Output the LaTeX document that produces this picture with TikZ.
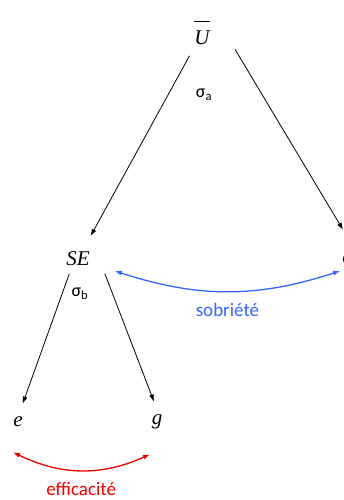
\documentclass[tikz,border=0pt]{standalone}
\usepackage{fontspec}
\setmainfont{Liberation Serif}
\newfontfamily\labelfont{Carlito}
\usetikzlibrary{arrows.meta}
\definecolor{sobblue}{RGB}{51, 102, 255}
\definecolor{effred}{RGB}{240, 0, 0}

\begin{document}
\begin{tikzpicture}[x=1pt,y=1pt,
    var/.style={font=\fontsize{21}{24}\selectfont\itshape, inner sep=0pt},
    lbl/.style={font=\labelfont\fontsize{19}{21}\selectfont},
    sig/.style={font=\labelfont\fontsize{18}{20}\selectfont},
    arr/.style={-{Latex[length=7pt,width=5pt]}, line width=0.8pt, black},
    twoway/.style={{Latex[length=7pt,width=5pt]}-{Latex[length=7pt,width=5pt]}, line width=1.3pt}]
    \useasboundingbox (0,0) rectangle (344,500);

    % variables
    \node[var] (U) at (202,467) {$\overline{\mbox{\itshape U\rule{0pt}{22pt}}}$};
    \node[var] (SE) at (78,241) {SE};
    \node[var] (C) at (347,241) {c};
    \node[var] (E) at (18,78) {e};
    \node[var] (G) at (157,78) {g};

    % sigmas
    \node[sig] (sa) at (204,405) {σ\textsubscript{a}};
    \node[sig] (sb) at (80,206) {σ\textsubscript{b}};

    % tree
    \draw[arr, shorten <=12pt, shorten >=18pt] (U) -- (SE);
    \draw[arr] ([xshift=33pt,yshift=-4pt]U.south) -- ([xshift=-4pt,yshift=24pt]C.north);
    \draw[arr, shorten <=8pt, shorten >=14pt] ([xshift=-6pt]SE.south) -- (E.north);
    \draw[arr, shorten <=8pt, shorten >=14pt] ([xshift=24pt]SE.south) -- ([xshift=2pt]G.north);

    % arcs
    \draw[twoway, sobblue]
        ([xshift=25pt,yshift=-12pt]SE.east) to[bend right=18]
        node[pos=0.5, below=8pt, lbl, text=sobblue] (sob) {sobriété}
        ([xshift=-2pt,yshift=-12pt]C.west);
    \draw[twoway, effred]
        ([xshift=-5pt,yshift=-25pt]E.south) to[bend right=25]
        node[pos=0.5, below=8pt, lbl, text=effred] (eff) {efficacité}
        ([xshift=-7pt,yshift=-25pt]G.south);
\end{tikzpicture}
\end{document}
